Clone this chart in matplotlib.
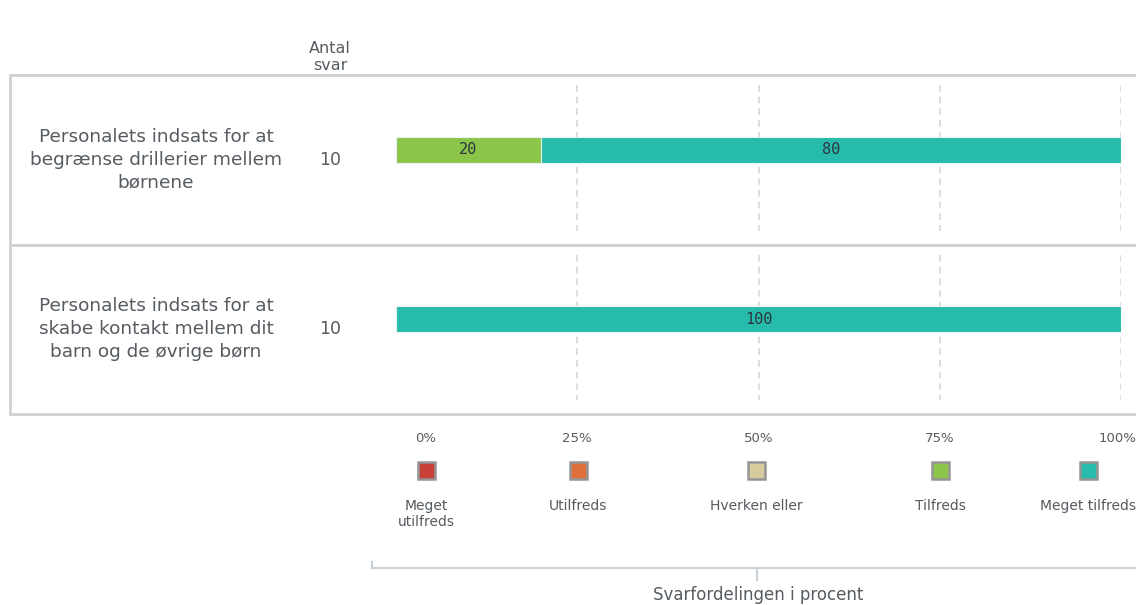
import matplotlib.pyplot as plt
import numpy as np
from matplotlib.patches import Rectangle
import matplotlib.transforms as mtransforms

# data
spoergsmaal = ["Personalets indsats for at\nbegrænse drillerier mellem\nbørnene",
               "Personalets indsats for at\nskabe kontakt mellem dit\nbarn og de øvrige børn"]
antal_svar = [10, 10]
kategorier = ["Meget\nutilfreds", "Utilfreds", "Hverken eller", "Tilfreds", "Meget tilfreds"]
farver = ["#c9403a", "#e0703a", "#d6cb9c", "#8bc64a", "#27bbab"]
procent = {
    "Meget\nutilfreds": [0, 0],
    "Utilfreds": [0, 0],
    "Hverken eller": [0, 0],
    "Tilfreds": [20, 0],
    "Meget tilfreds": [80, 100],
}
ticks = [0, 25, 50, 75, 100]
tick_labels = ["0%", "25%", "50%", "75%", "100%"]

W, H = 1136, 605
fig = plt.figure(figsize=(W / 100, H / 100), dpi=100)
plt.rcParams['font.family'] = ['DejaVu Sans']
txt = "#555b60"

# baggrund i pixel-koordinater
bg = fig.add_axes([0, 0, 1, 1])
bg.set_xlim(0, W)
bg.set_ylim(H, 0)
bg.axis('off')

def fx(px):
    return px / W

def fy(py):
    return 1 - py / H

# bar-akse: x 396..1121, y 75..414
top, bund = 75, 414
ax = fig.add_axes([fx(396), fy(bund), fx(1121) - fx(396), fy(top) - fy(bund)])
ax.set_xlim(0, 100)
ax.set_ylim(len(spoergsmaal), 0)
ax.patch.set_alpha(0)
for s in ax.spines.values():
    s.set_visible(False)
ax.tick_params(length=0)
ax.set_yticks([])

rk = (bund - top) / len(spoergsmaal)
bar_off = -10 / rk
ypos = np.arange(len(spoergsmaal)) + 0.5 + bar_off

# grid per raekke
for i in range(len(spoergsmaal)):
    ax.vlines(ticks[1:], i + 10 / rk, i + 1 - 14 / rk, colors="#d8d8d8",
              linestyles=(0, (4, 3)), linewidth=1.2, zorder=1)

venstre = np.zeros(len(spoergsmaal))
for kat, farve in zip(kategorier, farver):
    v = np.array(procent[kat], dtype=float)
    ax.barh(ypos, v, left=venstre, height=26 / rk, color=farve,
            edgecolor="#e8f4f0", linewidth=0.8, zorder=2)
    for y, l, w in zip(ypos, venstre, v):
        if w > 0:
            ax.text(l + w / 2, y, f"{w:.0f}", ha="center", va="center",
                    fontsize=11, color="#2e3540", family="DejaVu Sans Mono", zorder=3)
    venstre += v

ax.set_xticks(ticks)
ax.set_xticklabels(tick_labels, fontsize=9.5, color=txt)
ax.tick_params(axis='x', pad=13)
lbls = ax.get_xticklabels()
lbls[0].set_transform(lbls[0].get_transform() +
                      mtransforms.ScaledTranslation(30 / 100, 0, fig.dpi_scale_trans))
lbls[-1].set_transform(lbls[-1].get_transform() +
                       mtransforms.ScaledTranslation(-4 / 100, 0, fig.dpi_scale_trans))

# rammer
linje = "#d0d0d0"
for y in [top, (top + bund) / 2, bund]:
    bg.plot([10, W], [y, y], color=linje, lw=2, solid_capstyle='butt')
bg.plot([10, 10], [top, bund], color=linje, lw=2)

# tekster
bg.text(330, 57, "Antal\nsvar", ha="center", va="center", fontsize=11.5,
        color=txt, linespacing=1.2)
for i, (q, n) in enumerate(zip(spoergsmaal, antal_svar)):
    yc = top + rk * (i + 0.5)
    bg.text(156, yc, q, ha="center", va="center", fontsize=13.3, color=txt,
            linespacing=1.35)
    bg.text(330, yc, str(n), ha="center", va="center", fontsize=12.5, color=txt)

# legend
leg_x = [426, 578, 756, 940, 1088]
for x, kat, farve in zip(leg_x, kategorier, farver):
    bg.add_patch(Rectangle((x - 8, 462), 17, 17, facecolor=farve,
                           edgecolor="#959595", lw=1.8))
    bg.text(x, 499, kat, ha="center", va="top", fontsize=10, color=txt,
            linespacing=1.2)

# klamme
bg.plot([372, 372], [562, 568], color="#c8d0da", lw=1.5)
bg.plot([372, W], [568, 568], color="#c8d0da", lw=1.5)
bg.plot([757, 757], [568, 580], color="#c8d0da", lw=1.5)
bg.text(758, 595, "Svarfordelingen i procent", ha="center", va="center",
        fontsize=12, color=txt)

fig.savefig("out.png", dpi=100)
